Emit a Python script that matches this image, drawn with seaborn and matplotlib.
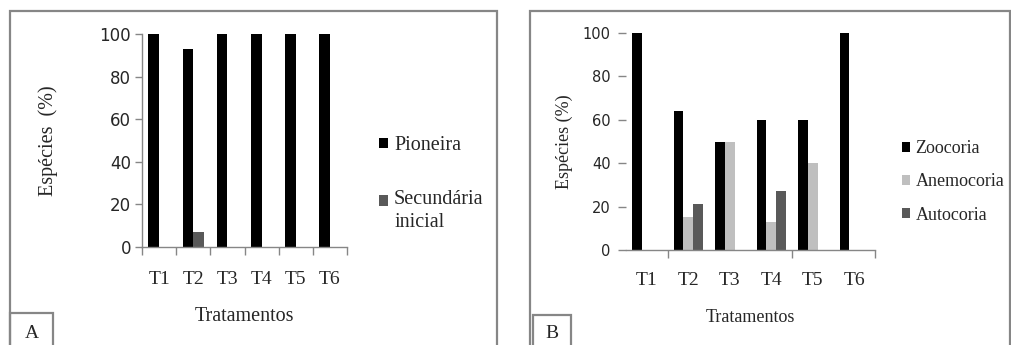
import matplotlib
matplotlib.use("Agg")
import matplotlib.pyplot as plt
from matplotlib.patches import Rectangle
import seaborn as sns
import pandas as pd

# --- data -----------------------------------------------------------------
tratamentos = ["T1", "T2", "T3", "T4", "T5", "T6"]

# Panel A: successional group (% of species)
pioneira = [100, 93, 100, 100, 100, 100]
secundaria_inicial = [0, 7, 0, 0, 0, 0]
grupos_a = ["Pioneira", "Secundária\ninicial"]
cores_a = ["#000000", "#595959"]

# Panel B: dispersal syndrome (% of species)
zoocoria = [100, 64, 50, 60, 60, 100]
anemocoria = [0, 15, 50, 13, 40, 0]
autocoria = [0, 21, 0, 27, 0, 0]
grupos_b = ["Zoocoria", "Anemocoria", "Autocoria"]
cores_b = ["#000000", "#bfbfbf", "#595959"]

y_ticks = [0, 20, 40, 60, 80, 100]


def long_form(series, names):
    rows = []
    for name, vals in zip(names, series):
        for t, v in zip(tratamentos, vals):
            rows.append({"Tratamento": t, "Grupo": name, "Valor": v})
    return pd.DataFrame(rows)


df_a = long_form([pioneira, secundaria_inicial], grupos_a)
df_b = long_form([zoocoria, anemocoria, autocoria], grupos_b)

sns.set_theme(style="white")
plt.rcParams["font.family"] = ["Liberation Serif", "DejaVu Serif"]

W, H = 1011, 345
fig = plt.figure(figsize=(W / 100, H / 100), dpi=100)
fig.patch.set_facecolor("white")


def fx(px):
    return px / W


def fy(px):
    return 1 - px / H


GRAY = "#868686"
SERIF = ["Liberation Serif", "DejaVu Serif"]

# --- panel frames ---------------------------------------------------------
def frame(x0, y0, x1, y1):
    fig.add_artist(Rectangle((fx(x0), fy(y1)), fx(x1) - fx(x0), fy(y0) - fy(y1),
                             transform=fig.transFigure, fill=False,
                             edgecolor=GRAY, linewidth=1.6, clip_on=False))


frame(10, 11, 497, 360)
frame(10, 313, 53, 360)
fig.text(fx(32), fy(333), "A", ha="center", va="center", fontsize=14, family=SERIF)

frame(530, 11, 1010, 360)
frame(533, 315, 571, 360)
fig.text(fx(552), fy(334), "B", ha="center", va="center", fontsize=14, family=SERIF)

# --- panel A --------------------------------------------------------------
ax_a = fig.add_axes([fx(142), fy(247), fx(347) - fx(142), fy(34) - fy(247)])
sns.barplot(data=df_a, x="Tratamento", y="Valor", hue="Grupo", palette=cores_a,
            width=0.62, saturation=1, linewidth=0, errorbar=None, ax=ax_a)
ax_a.set_xlim(-0.5, 5.5)
ax_a.set_ylim(0, 100)
ax_a.set_yticks(y_ticks)
ax_a.set_facecolor("none")
for s in ["top", "right"]:
    ax_a.spines[s].set_visible(False)
for s in ["left", "bottom"]:
    ax_a.spines[s].set_color(GRAY)
    ax_a.spines[s].set_linewidth(1.0)
ax_a.set_xticks(range(6))
ax_a.set_xticklabels(tratamentos, fontsize=14, family=SERIF)
ax_a.set_xticks([i - 0.5 for i in range(7)], minor=True)
ax_a.tick_params(axis="x", which="major", length=0, pad=17)
ax_a.tick_params(axis="x", which="minor", length=6, color=GRAY, width=1, direction="out", bottom=True)
ax_a.tick_params(axis="y", length=5, color=GRAY, width=1, direction="out", left=True, pad=3)
for lab in ax_a.get_yticklabels():
    lab.set_fontfamily("DejaVu Sans")
    lab.set_fontsize(12)
ax_a.set_xlabel("Tratamentos", fontsize=14.5, family=SERIF, labelpad=14)
ax_a.set_ylabel("Espécies  (%)", fontsize=14.5, family=SERIF, labelpad=30)
leg_a = ax_a.legend(loc="center left", bbox_to_anchor=(fx(379), fy(184)),
                    bbox_transform=fig.transFigure, frameon=False,
                    handlelength=0.45, handleheight=0.45, handletextpad=0.3,
                    labelspacing=1.75, borderaxespad=0, borderpad=0,
                    prop={"family": SERIF, "size": 14.5})
leg_a.get_texts()[1].set_linespacing(1.25)
# keep the swatch level with the first line of the two-line label
h2 = leg_a.legend_handles[1]
h2.set_y(h2.get_y() + 7.5)

# --- panel B --------------------------------------------------------------
ax_b = fig.add_axes([fx(626), fy(250), fx(875) - fx(626), fy(33) - fy(250)])
sns.barplot(data=df_b, x="Tratamento", y="Valor", hue="Grupo", palette=cores_b,
            width=0.69, saturation=1, linewidth=0, errorbar=None, ax=ax_b)
ax_b.set_xlim(-0.5, 5.5)
ax_b.set_ylim(0, 100)
ax_b.set_yticks(y_ticks)
ax_b.set_facecolor("none")
for s in ["top", "right", "left"]:
    ax_b.spines[s].set_visible(False)
ax_b.spines["bottom"].set_color(GRAY)
ax_b.spines["bottom"].set_linewidth(1.0)
ax_b.set_xticks(range(6))
ax_b.set_xticklabels(tratamentos, fontsize=14, family=SERIF)
ax_b.set_xticks([0.5, 3.5, 5.5], minor=True)
ax_b.tick_params(axis="x", which="major", length=0, pad=16)
ax_b.tick_params(axis="x", which="minor", length=6, color=GRAY, width=1, direction="out", bottom=True)
ax_b.tick_params(axis="y", length=6, color=GRAY, width=1, direction="out", left=True, pad=5)
for lab in ax_b.get_yticklabels():
    lab.set_fontfamily("DejaVu Sans")
    lab.set_fontsize(10.5)
ax_b.set_xlabel("Tratamentos", fontsize=13, family=SERIF, labelpad=14)
ax_b.set_ylabel("Espécies (%)", fontsize=13, family=SERIF, labelpad=7)
ax_b.legend(loc="center left", bbox_to_anchor=(fx(902), fy(182)),
            bbox_transform=fig.transFigure, frameon=False,
            handlelength=0.45, handleheight=0.45, handletextpad=0.3,
            labelspacing=0.9, borderaxespad=0, borderpad=0,
            prop={"family": SERIF, "size": 13})

fig.savefig("out.png", dpi=100, facecolor="white")
